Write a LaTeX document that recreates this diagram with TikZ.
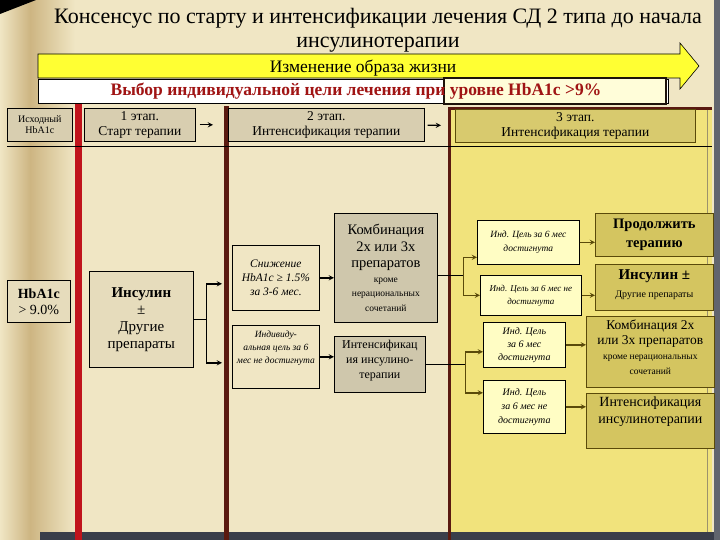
\documentclass[tikz,border=0pt]{standalone}
\usepackage{fontspec}
\setmainfont{Liberation Serif}
\usetikzlibrary{arrows,positioning}

\definecolor{parch}{HTML}{F0E6C4}
\definecolor{parchdk}{HTML}{CDB582}
\definecolor{tanbox}{HTML}{D8CEB0}
\definecolor{graybox}{HTML}{CFC7AC}
\definecolor{lightbox}{HTML}{E6DCBC}
\definecolor{yellowzone}{HTML}{F1E37C}
\definecolor{olivebox}{HTML}{D4C560}
\definecolor{olivehdr}{HTML}{D8CA6E}
\definecolor{olivedk}{HTML}{5A4A0A}
\definecolor{paleyellow}{HTML}{FFFDC4}
\definecolor{barred}{HTML}{C0141C}
\definecolor{barbrown}{HTML}{5A1A10}
\definecolor{goalred}{HTML}{A01414}
\definecolor{arrowyellow}{HTML}{FFFF33}
\definecolor{bottombar}{HTML}{3A3E4A}

\newcommand{\fsz}[2]{\fontsize{#1}{#2}\selectfont}

\begin{document}
\begin{tikzpicture}[>=stealth, x=1pt, y=-1pt,
    every node/.style={align=center, inner sep=1pt},
    box/.style={draw, anchor=north west, line width=0.7pt},
    hdr/.style={box, fill=tanbox, font=\fsz{13.5}{15}},
    yhdr/.style={box, fill=olivehdr, draw=olivedk, font=\fsz{13.5}{15}},
    small/.style={box, fill=paleyellow},
    big/.style={box, fill=olivebox, draw=olivedk},
    toplbl/.style={anchor=north, yshift=-3pt},
    link/.style={->, line width=1.3pt},
    ylink/.style={->, line width=1.3pt, olivedk}]
    \useasboundingbox (0,0) rectangle (720,540);
    % Background
    \fill[parch] (0,0) rectangle (720,540);
    \shade[left color=parch, right color=parchdk] (0,0) rectangle (30,540);
    \shade[left color=parchdk, right color=parch] (30,0) rectangle (75,540);
    \fill[black] (0,0) -- (36,0) -- (0,14) -- cycle;
    \fill[bottombar] (40,532) rectangle (720,540);
    \fill[bottombar!80] (714,0) rectangle (720,540);
    % Stage 3 zone
    \fill[yellowzone] (448,108) rectangle (712,532);
    \draw[barbrown, line width=3pt] (449,540) -- (449,109) -- (712,109);
    \draw[olivedk!60, line width=1pt] (707,110) -- (707,532);
    % Column bars
    \fill[barred] (75,104) rectangle (82,540);
    \fill[barbrown] (224,106) rectangle (229,540);
    % Title
    \node[font=\fsz{22}{24}] (title) at (378,30) {Консенсус по старту и интенсификации  лечения СД 2 типа до начала\\инсулинотерапии};
    % Lifestyle arrow
    \draw[fill=arrowyellow, line width=0.6pt] (38,54) -- (680,54) -- (680,43) -- (699,66) -- (680,89) -- (680,78) -- (38,78) -- cycle;
    \node[font=\fsz{17.5}{19}] (life) at (363,68) {Изменение образа жизни};
    % Goal
    \draw[fill=white, line width=0.6pt] (38,79) rectangle (668,103);
    \draw[fill=white!85!yellow, draw=black!85!brown, line width=2.5pt] (444,78) rectangle (666,104);
    \node[goalred, font=\fsz{17.5}{19}\bfseries] (goal) at (356,91) {Выбор индивидуальной цели лечения при уровне HbA1c >9\%};
    % Headers
    \draw[line width=0.6pt] (7,146) -- (712,146);
    \node[hdr, font=\fsz{10}{11}, minimum width=65pt, minimum height=33pt] (hba0) at (7,108) {Исходный\\HbA1c};
    \node[hdr, minimum width=111pt, minimum height=33pt] (st1) at (84,108) {1 этап.\\Старт терапии};
    \node[hdr, minimum width=196pt, minimum height=33pt] (st2) at (228,108) {2 этап.\\Интенсификация терапии};
    \node[yhdr, minimum width=240pt, minimum height=33pt] (st3) at (455,109) {3 этап.\\Интенсификация терапии};
    % Stage 1
    \node[box, fill=lightbox, font=\fsz{14}{16}, minimum width=63pt, minimum height=42pt] (hba9) at (7,280) {\textbf{HbA1c}\\> 9.0\%};
    \node[box, fill=lightbox, font=\fsz{15}{17}, minimum width=104pt, minimum height=96pt] (ins) at (89,271) {\textbf{Инсулин}\\±\\Другие\\препараты};
    % Stage 2
    \node[box, fill=parch, font=\fsz{11.5}{14}\itshape, minimum width=87pt, minimum height=65pt] (fall) at (232,245) {Снижение\\HbA1c ≥ 1.5\%\\за 3-6 мес.};
    \node[box, fill=parch, minimum width=87pt, minimum height=63pt, label={[toplbl, yshift=-2pt, font=\fsz{9.5}{13}\itshape]north:{Индивиду-\\альная цель за 6\\мес не достигнута}}] (miss2) at (232,325) {};
    \node[box, fill=graybox, font=\fsz{14.5}{16.5}, minimum width=103pt, minimum height=109pt] (comb2) at (334,213) {Комбинация\\2х или 3х\\препаратов\\[-2pt]\fsz{9.5}{10}кроме\\[-2pt]\fsz{9.5}{10}нерациональных\\[-2pt]\fsz{9.5}{10}сочетаний};
    \node[box, fill=graybox, minimum width=91pt, minimum height=56pt, label={[toplbl, font=\fsz{12}{15}]north:{Интенсификац\\ия инсулино-\\терапии}}] (intens2) at (334,336) {};
    % Stage 3
    \node[small, font=\fsz{9.5}{14}\itshape, minimum width=102pt, minimum height=44pt] (ok1) at (477,220) {Инд. Цель  за 6 мес\\достигнута};
    \node[small, font=\fsz{9}{13}\itshape, minimum width=101pt, minimum height=40pt] (nok1) at (480,275) {Инд. Цель  за 6 мес не\\достигнута};
    \node[small, font=\fsz{10}{13}\itshape, minimum width=82pt, minimum height=45pt] (ok2) at (483,322) {Инд. Цель\\за 6 мес\\достигнута};
    \node[small, font=\fsz{10}{14}\itshape, minimum width=82pt, minimum height=53pt] (nok2) at (483,380) {Инд. Цель\\за 6 мес не\\достигнута};
    \node[big, font=\fsz{14.5}{19}\bfseries, minimum width=118pt, minimum height=43pt] (cont) at (595,213) {Продолжить\\терапию};
    \node[big, minimum width=118pt, minimum height=46pt, label={[toplbl, yshift=-1pt, font=\fsz{15}{18}]north:{\textbf{Инсулин ±}\\\fsz{10}{12}Другие препараты}}] (ins3) at (595,264) {};
    \node[big, minimum width=128pt, minimum height=71pt, label={[toplbl, font=\fsz{13.5}{15}]north:{Комбинация  2х\\или 3х препаратов\\\fsz{9.5}{11}кроме нерациональных\\\fsz{9.5}{11}сочетаний}}] (comb3) at (586,316) {};
    \node[big, minimum width=128pt, minimum height=55pt, label={[toplbl, font=\fsz{14}{17}]north:{Интенсификация\\инсулинотерапии}}] (intens3) at (586,393) {};
    % Links
    \draw[link, shorten <=4pt, shorten >=15pt] (st1) -- (st2);
    \draw[link, shorten <=3pt, shorten >=14pt] (st2) -- (st3);
    \draw (ins.east) -- ++(13,0) coordinate (fk1);
    \draw[link, shorten >=10pt] (fk1) |- ([yshift=-6pt]fall.west);
    \draw[link, shorten >=10pt] (fk1) |- ([yshift=-6pt]miss2.west);
    \draw[link] (fall.east) -- (fall.east -| comb2.west);
    \draw[link] (miss2.east) -- (miss2.east -| intens2.west);
    \draw ([yshift=-7pt]comb2.east) -- ++(26,0) coordinate (fk2);
    \draw[ylink] (fk2) |- ([yshift=-15pt]ok1.west);
    \draw[ylink] (fk2) |- (nok1.west);
    \draw (intens2.east) -- ++(40,0) coordinate (fk3);
    \draw[ylink] (fk3) |- ([yshift=-7pt]ok2.west);
    \draw[ylink] (fk3) |- ([yshift=14pt]nok2.west);
    \draw[ylink] (ok1.east) -- (ok1.east -| cont.west);
    \draw[ylink] (nok1.east) -- (nok1.east -| ins3.west);
    \draw[ylink] (ok2.east) -- (ok2.east -| comb3.west);
    \draw[ylink] (nok2.east) -- (nok2.east -| intens3.west);
\end{tikzpicture}
\end{document}
